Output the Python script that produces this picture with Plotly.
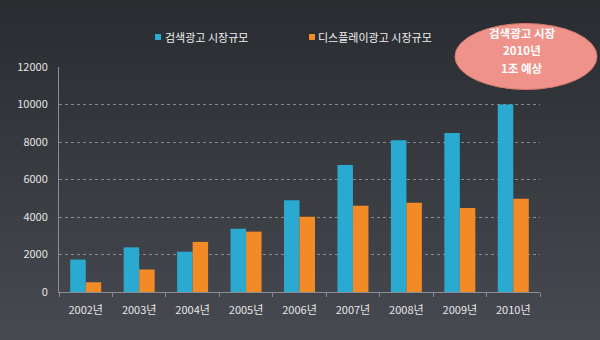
import plotly.graph_objects as go

years = ["2002년", "2003년", "2004년", "2005년", "2006년", "2007년", "2008년", "2009년", "2010년"]
search_ad = [1730, 2380, 2150, 3380, 4900, 6780, 8090, 8480, 10000]
display_ad = [520, 1200, 2670, 3220, 4010, 4600, 4760, 4480, 4970]
series_names = ["검색광고 시장규모", "디스플레이광고 시장규모"]
series_colors = ["#2aaad0", "#f28a26"]
callout_lines = ["검색광고 시장", "2010년", "1조 예상"]

W, H = 600, 340
ML, MR, MT, MB = 59, 60, 67, 48
PW, PH = W - ML - MR, H - MT - MB

def px_x(x):
    return (x - ML) / PW

def px_y(y):
    return (H - MB - y) / PH

FONT = "Noto Sans CJK KR, Noto Sans, sans-serif"

fig = go.Figure()
for name, vals, col in zip(series_names, [search_ad, display_ad], series_colors):
    fig.add_trace(go.Bar(x=years, y=vals, name=name,
                         marker=dict(color=col, line=dict(width=0))))

shapes = []
n = 30
top = (0x2a, 0x2c, 0x30)
bot = (0x46, 0x49, 0x50)
for i in range(n):
    t = i / (n - 1)
    c = tuple(int(top[k] + (bot[k] - top[k]) * t) for k in range(3))
    y0 = H * i / n
    y1 = H * (i + 1) / n + 1
    shapes.append(dict(type="rect", xref="paper", yref="paper", layer="below",
                       x0=px_x(0), x1=px_x(W), y0=px_y(y1), y1=px_y(y0),
                       fillcolor="rgb(%d,%d,%d)" % c, line=dict(width=0)))

# callout ellipse (pixel sized, anchored in paper coords)
shapes.append(dict(type="circle", xref="paper", yref="paper", layer="above",
                   xsizemode="pixel", ysizemode="pixel",
                   xanchor=px_x(526), yanchor=px_y(56.5),
                   x0=-71, x1=71, y0=-33, y1=33,
                   fillcolor="#ef928a", line=dict(color="#d87a72", width=1)))

annotations = []
# custom legend
legend_pos = [(155, 163), (309, 316)]
for (sx, tx), name, col in zip(legend_pos, series_names, series_colors):
    shapes.append(dict(type="rect", xref="paper", yref="paper", layer="above",
                       xsizemode="pixel", ysizemode="pixel",
                       xanchor=px_x(sx), yanchor=px_y(37),
                       x0=0, x1=6, y0=-3, y1=3,
                       fillcolor=col, line=dict(width=0)))
    annotations.append(dict(text=name, xref="paper", yref="paper",
                            x=px_x(tx), y=px_y(37), xanchor="left", yanchor="middle",
                            showarrow=False,
                            font=dict(size=11, color="#f0f0f0", family=FONT)))

for line, yy in zip(callout_lines, [32.5, 50, 67.5]):
    annotations.append(dict(text=line, xref="paper", yref="paper",
                            x=px_x(522), y=px_y(yy), xanchor="center", yanchor="middle",
                            showarrow=False,
                            font=dict(size=11.5, color="white", family=FONT, weight="bold")))

fig.update_layout(
    width=W, height=H,
    margin=dict(l=ML, r=MR, t=MT, b=MB),
    paper_bgcolor="#383b41", plot_bgcolor="rgba(0,0,0,0)",
    barmode="group", bargap=0.42, bargroupgap=0.0,
    font=dict(family=FONT, color="#e6e6e6", size=11),
    shapes=shapes,
    showlegend=False,
    annotations=annotations,
)
fig.update_yaxes(range=[0, 12000], tickvals=[0, 2000, 4000, 6000, 8000, 10000, 12000],
                 tickformat="d",
                 showgrid=True, gridcolor="rgba(200,200,200,0.55)", griddash="dot",
                 gridwidth=1, zeroline=False, showline=True, linecolor="#8a8d92",
                 linewidth=1, ticks="", tickfont=dict(size=11, color="#e6e6e6"),
                 ticklabelstandoff=8)
fig.update_xaxes(showline=True, linecolor="#8a8d92", linewidth=1, ticks="outside",
                 tickson="boundaries", ticklen=4, tickcolor="#8a8d92",
                 tickfont=dict(size=11, color="#e6e6e6"), showgrid=False,
                 ticklabelstandoff=8)

fig.write_html("out.html")
